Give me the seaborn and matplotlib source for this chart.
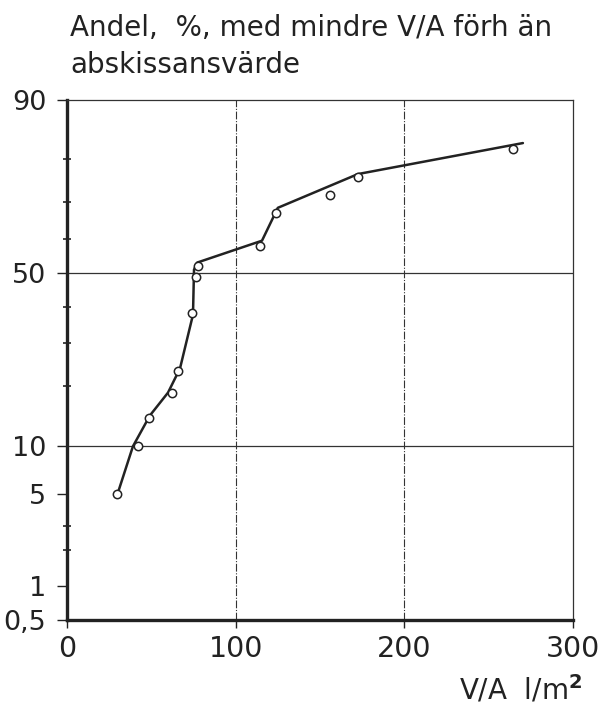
import numpy as np
import pandas as pd
import matplotlib
matplotlib.use("Agg")
import matplotlib.pyplot as plt
import seaborn as sns
from statistics import NormalDist
from matplotlib.ticker import FixedLocator, FixedFormatter

# ---- data ----
point_x = [29.6, 42.0, 48.6, 62.2, 65.8, 74.1, 76.5, 77.7, 114.4, 123.9, 155.9, 172.5, 264.4]
point_y = [5.0, 9.9, 14.0, 18.7, 23.4, 38.4, 48.8, 52.1, 57.9, 67.2, 71.8, 76.2, 82.1]

line_x = [29.6, 39.1, 49.2, 59.9, 67.0, 74.7, 75.3, 77.1, 115.6, 125.0, 172.5, 270.3]
line_y = [4.9, 9.9, 14.5, 18.7, 23.9, 37.8, 50.9, 53.0, 59.4, 68.5, 76.8, 83.2]

y_ticks = [0.5, 1, 5, 10, 50, 90]
y_tick_labels = ["0,5", "1", "5", "10", "50", "90"]
y_minor = [2, 3, 20, 30, 40, 60, 70, 80]
x_ticks = [0, 100, 200, 300]
x_tick_labels = ["0", "100", "200", "300"]

title_line1 = "Andel,  %, med mindre V/A förh än"
title_line2 = "abskissansvärde"
x_label = "V/A  l/m$^{\\mathbf{2}}$"

# ---- normal probability scale ----
_nd = NormalDist()

def fwd(v):
    a = np.asarray(v, dtype=float)
    flat = np.clip(a.ravel() / 100.0, 1e-9, 1 - 1e-9)
    return np.array([_nd.inv_cdf(t) for t in flat]).reshape(a.shape)

def inv(z):
    a = np.asarray(z, dtype=float)
    flat = np.clip(a.ravel(), -30, 30)
    return np.array([_nd.cdf(t) * 100 for t in flat]).reshape(a.shape)

sns.set_theme(style="white")
plt.rcParams["font.family"] = ["DejaVu Sans"]
plt.rcParams["mathtext.fontset"] = "dejavusans"

ink = "#222222"

fig = plt.figure(figsize=(6.06, 7.17), dpi=100)
fig.patch.set_facecolor("white")
ax = fig.add_axes([67 / 606, 1 - 620 / 717, (573 - 67) / 606, (620 - 100) / 717])
ax.set_facecolor("white")
ax.set_yscale("function", functions=(fwd, inv))

line_df = pd.DataFrame({"x": line_x, "y": line_y})
pts_df = pd.DataFrame({"x": point_x, "y": point_y})

# grid lines
for gx in [100, 200]:
    ax.axvline(gx, color="#333333", lw=0.8, ls=(0, (7, 1.5, 1, 1.5)), zorder=1)
for gy in [10, 50]:
    ax.axhline(gy, color="#333333", lw=0.9, zorder=1)

sns.lineplot(data=line_df, x="x", y="y", ax=ax, color=ink, lw=1.8,
             sort=False, estimator=None, zorder=3)
sns.scatterplot(data=pts_df, x="x", y="y", ax=ax, s=36, marker="o",
                facecolor="white", edgecolor=ink, linewidth=1.1, zorder=4)

ax.set_xlim(0, 300)
ax.set_ylim(0.5, 90)

ax.yaxis.set_major_locator(FixedLocator(y_ticks))
ax.yaxis.set_major_formatter(FixedFormatter(y_tick_labels))
ax.yaxis.set_minor_locator(FixedLocator(y_minor))
ax.yaxis.set_minor_formatter(FixedFormatter([""] * len(y_minor)))
ax.set_xticks(x_ticks)
ax.set_xticklabels(x_tick_labels)

ax.tick_params(axis="y", which="major", direction="out", length=7, width=1.0,
               labelsize=19.5, pad=8, colors=ink, left=True)
ax.tick_params(axis="y", which="minor", direction="inout", length=6, width=1.2,
               color=ink, left=True)
ax.tick_params(axis="x", which="major", direction="out", length=6, width=1.0,
               labelsize=20.5, pad=5, colors=ink, bottom=True)

for s in ["left", "bottom"]:
    ax.spines[s].set_linewidth(2.4)
    ax.spines[s].set_color(ink)
for s in ["top", "right"]:
    ax.spines[s].set_linewidth(0.9)
    ax.spines[s].set_color("#333333")

ax.set_xlabel("")
ax.set_ylabel("")

fig.text(70 / 606, 1 - 36 / 717, title_line1, ha="left", va="baseline",
         fontsize=20, color=ink)
fig.text(70 / 606, 1 - 73 / 717, title_line2, ha="left", va="baseline",
         fontsize=20, color=ink)
fig.text(582 / 606, 1 - 700 / 717, x_label, ha="right", va="baseline",
         fontsize=20, color=ink)

fig.savefig("out.png", dpi=100, facecolor="white")
